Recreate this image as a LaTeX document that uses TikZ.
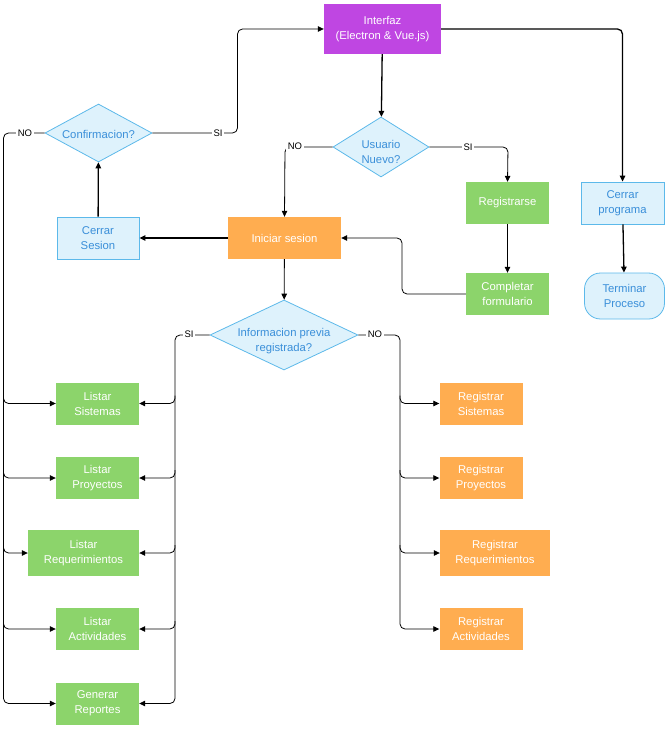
\documentclass[tikz,border=0pt]{standalone}
\usepackage{fontspec}
\setmainfont{Liberation Sans}
\usetikzlibrary{shapes.geometric,arrows.meta,calc}

\definecolor{purplebox}{HTML}{BF46E2}
\definecolor{greenbox}{HTML}{8CD46B}
\definecolor{orangebox}{HTML}{FFAD50}
\definecolor{bluefill}{HTML}{DEF2FC}
\definecolor{blueline}{HTML}{5CB9EA}
\definecolor{bluetext}{HTML}{3A8FD9}

% text of a diamond, kept out of the shape's size computation
\newcommand{\dtext}[1]{\makebox[0pt][c]{\raisebox{-0.5\height}[0pt][0pt]{\begin{tabular}{@{}c@{}}#1\end{tabular}}}}

\tikzset{
  x=1pt, y=-1pt,
  every node/.style={font=\fontsize{11.3}{15}\selectfont, inner sep=0pt, align=center},
  boxbase/.style={rectangle, minimum width=83pt, minimum height=42pt},
  purplestep/.style={boxbase, fill=purplebox, text=white},
  greenstep/.style={boxbase, fill=greenbox, text=white},
  orangestep/.style={boxbase, fill=orangebox, text=white},
  bluestep/.style={boxbase, fill=bluefill, draw=blueline, line width=0.8pt, text=bluetext},
  endstep/.style={rectangle, rounded corners=16pt, minimum width=80pt, minimum height=46pt,
                  fill=bluefill, draw=blueline, line width=0.8pt, text=bluetext},
  decision/.style={diamond, fill=bluefill, draw=blueline, line width=0.8pt, text=bluetext},
  flow/.style={line width=0.8pt, rounded corners=5pt, -{Triangle[length=6pt,width=5.5pt]}},
  mainflow/.style={flow, line width=1.3pt},
  answer/.style={fill=white, inner sep=1.5pt, font=\fontsize{9.5}{10}\selectfont, text=black},
}

\begin{document}
\begin{tikzpicture}
\useasboundingbox (0,0) rectangle (666,735);

% process boxes and decisions
\node[purplestep, minimum width=117pt, minimum height=50pt] (ui) at (382.5,29) {Interfaz\\(Electron \& Vue.js)};
\node[decision, minimum width=96pt, minimum height=60pt] (newuser) at (381,147) {\dtext{Usuario\\Nuevo?}};
\node[decision, minimum width=107pt, minimum height=58pt] (confirm) at (98.5,133) {\dtext{Confirmacion?}};
\node[bluestep, minimum width=82pt] (logout) at (98,238) {Cerrar\\Sesion};
\node[orangestep, minimum width=113pt] (login) at (284.5,238) {Iniciar sesion};
\node[greenstep] (signup) at (507.5,203) {Registrarse};
\node[greenstep] (form) at (507.5,294) {Completar\\formulario};
\node[bluestep] (quit) at (622.5,203) {Cerrar\\programa};
\node[endstep] (finish) at (624.5,296) {Terminar\\Proceso};
\node[decision, minimum width=148pt, minimum height=70pt] (info) at (284,335) {\dtext{Informacion previa\\registrada?}};

% listing column
\node[greenstep] (ls) at (97.5,403.5) {Listar\\Sistemas};
\node[greenstep] (lp) at (97.5,478) {Listar\\Proyectos};
\node[greenstep, minimum width=111pt, minimum height=46pt] (lr) at (83.5,553) {Listar\\Requerimientos};
\node[greenstep] (la) at (97.5,629) {Listar\\Actividades};
\node[greenstep] (gr) at (97.5,703.5) {Generar\\Reportes};

% registration column
\node[orangestep] (rs) at (481,403.5) {Registrar\\Sistemas};
\node[orangestep] (rp) at (481,478) {Registrar\\Proyectos};
\node[orangestep, minimum width=110pt, minimum height=46pt] (rr) at (495,553) {Registrar\\Requerimientos};
\node[orangestep] (ra) at (481,629) {Registrar\\Actividades};

% x positions of the vertical runs
\coordinate (confSI) at (237.5,0);
\coordinate (leftNO) at (3.5,0);
\coordinate (userNO) at (285,0);
\coordinate (userSI) at (508,0);
\coordinate (formUp) at (402,0);
\coordinate (infoSI) at (175,0);
\coordinate (infoNO) at (400,0);

% main flow
\draw[mainflow] (ui) -- (newuser);
\draw[mainflow] (ui.east) -| (quit.north);
\draw[mainflow] (quit) -- (finish);
\draw[mainflow] (login) -- (logout);
\draw[mainflow] (logout) -- (confirm);
\draw[flow] (login) -- (info);
\draw[flow] (signup) -- (form);
\draw[flow] (form.west) -- (form.west -| formUp) |- (login.east);

% new user decision
\draw[flow] (newuser.east) -- (newuser.east -| userSI) -- (signup.north);
\draw[flow] (newuser.west) -- (newuser.west -| userNO) -- (login.north);
\node[answer] (nuSI) at (468,147) {SI};
\node[answer] (nuNO) at (295,146) {NO};

% confirmation decision: back to the interface, or to the listings
\draw[flow] (confirm.east) -- (confirm.east -| confSI) |- (ui.west);
\node[answer] (cfSI) at (218,133) {SI};
\draw[flow] (confirm.west) -- (confirm.west -| leftNO) |- (gr.west);
\foreach \t in {ls,lp,lr,la}
  \draw[flow] ($(\t.west -| leftNO)+(0,-8)$) |- (\t.west);
\node[answer] (cfNO) at (25,133) {NO};

% previous information decision
\draw[flow] (info.west) -- (info.west -| infoSI) |- (gr.east);
\foreach \t in {ls,lp,lr,la}
  \draw[flow] ($(\t.east -| infoSI)+(0,-8)$) |- (\t.east);
\node[answer] (ifSI) at (189,334) {SI};
\draw[flow] (info.east) -- (info.east -| infoNO) |- (ra.west);
\foreach \t in {rs,rp,rr}
  \draw[flow] ($(\t.west -| infoNO)+(0,-8)$) |- (\t.west);
\node[answer] (ifNO) at (375,334) {NO};

\end{tikzpicture}
\end{document}
